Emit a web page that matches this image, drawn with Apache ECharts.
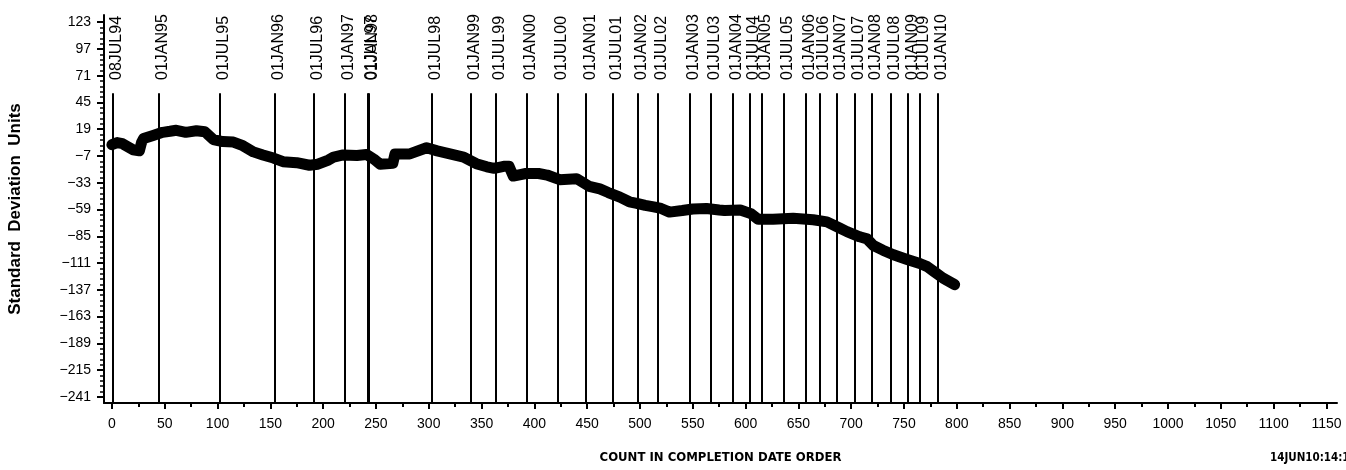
<!DOCTYPE html>
<html>
<head>
<meta charset="utf-8">
<script src="https://cdn.jsdelivr.net/npm/echarts@6/dist/echarts.min.js"></script>
<style>
  html, body { margin: 0; padding: 0; background: #fff; }
  #chart { width: 1346px; height: 470px; }
</style>
</head>
<body>
<div id="chart"></div>
<script>
// count in completion date order (x) and cumulative standard deviation units (y)
var countValues = [0, 5, 10, 15, 20, 26, 28, 30, 39, 48, 55, 61, 70, 80, 88, 96, 105, 115, 124, 134,
  143, 153, 162, 175, 187, 195, 205, 210, 219, 232, 241, 248, 254, 266, 268, 282, 298, 308, 320, 333,
  345, 355, 362, 371, 376, 380, 392, 404, 412, 424, 440, 452, 462, 470, 481, 490, 497, 505, 513, 520,
  528, 540, 550, 563, 575, 580, 595, 605, 612, 626, 645, 664, 677, 689, 696, 708, 715, 721, 730, 740,
  753, 765, 772, 778, 787, 798];
var sdValues = [4, 6, 5, 2, -1, -2, 6, 10, 13, 16, 17, 18, 16, 17.5, 16.5, 9, 7, 6.5, 3, -3,
  -6, -9, -12.5, -13.5, -16, -15, -11, -8, -6, -6.5, -5.5, -10, -15, -14, -5, -5, 1, -2, -5, -8,
  -14.5, -17.5, -19, -17, -17, -26.5, -24, -24, -25.5, -30, -29, -36.5, -39, -42.5, -47, -51.5, -53, -55, -56.5, -58,
  -61.5, -60, -58.5, -58, -59.5, -60, -59.5, -63, -68.5, -68.5, -67.5, -69, -71, -77, -80.5, -85.5, -87.5, -94, -98.5, -103,
  -107.5, -111.5, -114.5, -119, -125.7, -132];

// reference dates marked as vertical lines
var eventNames = ["08JUL94", "01JAN95", "01JUL95", "01JAN96", "01JUL96", "01JAN97", "01JUL97", "01JAN98",
  "01JUL98", "01JAN99", "01JUL99", "01JAN00", "01JUL00", "01JAN01", "01JUL01", "01JAN02", "01JUL02",
  "01JAN03", "01JUL03", "01JAN04", "01JUL04", "01JAN05", "01JUL05", "01JAN06", "01JUL06", "01JAN07",
  "01JUL07", "01JAN08", "01JUL08", "01JAN09", "01JUL09", "01JAN10"];
var eventCounts = [1, 44, 102, 154, 191, 220, 242, 243, 303, 340, 363, 393, 422, 449, 474, 498, 517,
  547, 567, 588, 604, 615, 636, 657, 670, 686, 703, 719, 737, 754, 765, 782];

var yTickLabels = [123, 97, 71, 45, 19, -7, -33, -59, -85, -111, -137, -163, -189, -215, -241];
var xTickLabels = [0, 50, 100, 150, 200, 250, 300, 350, 400, 450, 500, 550, 600, 650, 700, 750, 800,
  850, 900, 950, 1000, 1050, 1100, 1150];

var X_MIN = -7.5, X_MAX = 1160, Y_MIN = -247, Y_MAX = 130, EVENT_TOP = 54;
var FONT = '"Liberation Sans", Arial, sans-serif';
var COND = '"DejaVu Sans Condensed", "DejaVu Sans", sans-serif';

// minor tick positions: 4 between y labels, 1 between x labels
var yMinor = [];
for (var i = 0; i < yTickLabels.length - 1; i++) {
  var step = (yTickLabels[i] - yTickLabels[i + 1]) / 5;
  for (var k = 1; k < 5; k++) yMinor.push(yTickLabels[i] - step * k);
}
var xMinor = [];
for (var j = 0; j < xTickLabels.length - 1; j++) {
  xMinor.push((xTickLabels[j] + xTickLabels[j + 1]) / 2);
}

var lineData = countValues.map(function (c, i) { return [c, sdValues[i]]; });
var eventLines = eventCounts.map(function (c) {
  return [{ coord: [c, Y_MIN] }, { coord: [c, EVENT_TOP] }];
});

var chart = echarts.init(document.getElementById('chart'));
chart.setOption({
  animation: false,
  backgroundColor: '#fff',
  grid: [
    { left: 104, right: 9, top: 15, bottom: 67, containLabel: false, outerBoundsMode: 'none' },
    // second grid only carries the date labels above the event lines
    { left: 104, right: 9, top: 88, bottom: 67, containLabel: false, outerBoundsMode: 'none' }
  ],
  xAxis: [
    {
      type: 'value', gridIndex: 0, position: 'bottom', min: X_MIN, max: X_MAX,
      name: 'COUNT IN COMPLETION DATE ORDER', nameLocation: 'middle', nameGap: 48,
      nameTextStyle: { color: '#000', fontFamily: COND, fontWeight: 'bold', fontSize: 13 },
      axisLine: { show: true, onZero: false, lineStyle: { color: '#000', width: 2 } },
      axisTick: { show: true, length: 6, customValues: xTickLabels, lineStyle: { color: '#000', width: 2 } },
      axisLabel: {
        customValues: xTickLabels, color: '#000', fontFamily: FONT, fontSize: 14, margin: 14,
        formatter: function (v) { return String(v); }
      },
      splitLine: { show: false }
    },
    {
      type: 'value', gridIndex: 0, position: 'bottom', min: X_MIN, max: X_MAX,
      axisLine: { show: false, onZero: false },
      axisTick: { show: true, length: 4, customValues: xMinor, lineStyle: { color: '#000', width: 2 } },
      axisLabel: { show: false },
      splitLine: { show: false }
    },
    {
      type: 'value', gridIndex: 1, position: 'top', min: X_MIN, max: X_MAX,
      axisLine: { show: false, onZero: false },
      axisTick: { show: false },
      axisLabel: {
        show: true, customValues: eventCounts, rotate: -90, margin: 8, hideOverlap: false,
        verticalAlign: 'top', lineHeight: 8,
        color: '#000', fontFamily: FONT, fontSize: 16,
        formatter: function (v) {
          var n = eventCounts.indexOf(v);
          return n >= 0 ? eventNames[n] : '';
        }
      },
      splitLine: { show: false }
    }
  ],
  yAxis: [
    {
      type: 'value', gridIndex: 0, position: 'left', min: Y_MIN, max: Y_MAX,
      name: 'Standard  Deviation  Units', nameLocation: 'middle', nameGap: 80,
      nameTextStyle: { color: '#000', fontFamily: FONT, fontWeight: 'bold', fontSize: 17 },
      axisLine: { show: true, onZero: false, lineStyle: { color: '#000', width: 2 } },
      axisTick: { show: true, length: 7, customValues: yTickLabels, lineStyle: { color: '#000', width: 2 } },
      axisLabel: {
        customValues: yTickLabels, color: '#000', fontFamily: FONT, fontSize: 14, margin: 13,
        formatter: function (v) { return String(v).replace('-', '\u2212'); }
      },
      splitLine: { show: false }
    },
    {
      type: 'value', gridIndex: 0, position: 'left', min: Y_MIN, max: Y_MAX,
      axisLine: { show: false, onZero: false },
      axisTick: { show: true, length: 4, customValues: yMinor, lineStyle: { color: '#000', width: 1.5 } },
      axisLabel: { show: false },
      splitLine: { show: false }
    },
    {
      type: 'value', gridIndex: 1, show: false, min: 0, max: 1
    }
  ],
  graphic: [
    {
      type: 'text', left: 1270, top: 452,
      style: { text: '14JUN10:14:1', fill: '#000', font: 'bold 11.5px ' + COND }
    }
  ],
  series: [
    {
      type: 'line',
      xAxisIndex: 0, yAxisIndex: 0,
      data: lineData,
      showSymbol: false,
      lineStyle: { color: '#000', width: 11, join: 'round', cap: 'round' },
      markLine: {
        silent: true,
        symbol: ['none', 'none'],
        label: { show: false },
        lineStyle: { color: '#000', width: 2, type: 'solid' },
        emphasis: { disabled: true },
        data: eventLines
      }
    },
    {
      // empty series so the label grid gets laid out
      type: 'scatter', xAxisIndex: 2, yAxisIndex: 2, data: [], silent: true
    }
  ]
});
</script>
</body>
</html>
